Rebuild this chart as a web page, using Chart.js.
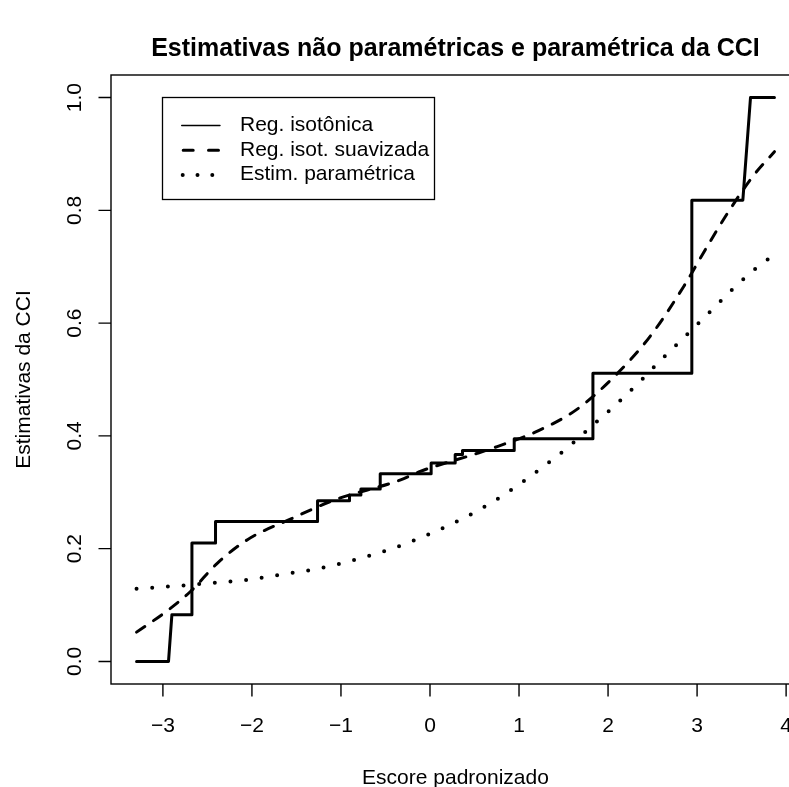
<!DOCTYPE html>
<html>
<head>
<meta charset="utf-8">
<script src="https://cdn.jsdelivr.net/npm/chart.js@4.4.1/dist/chart.umd.min.js"></script>
<style>
  html, body { margin: 0; padding: 0; background: #fff; overflow: hidden; width: 789px; height: 787px; }
  canvas { display: block; }
</style>
</head>
<body>
<canvas id="c" width="830" height="787"></canvas>
<script>
// Isotonic regression (step curve): vertices of the fitted step function
const isoX = [-3.296, -2.937, -2.899, -2.674, -2.674, -2.409, -2.409, -1.263, -1.263, -0.904, -0.904, -0.776, -0.776, -0.559, -0.559, 0.013, 0.013, 0.283, 0.283, 0.365, 0.365, 0.946, 0.946, 1.830, 1.830, 2.941, 2.941, 3.514, 3.600, 3.869];
const isoY = [0.000, 0.000, 0.083, 0.083, 0.210, 0.210, 0.248, 0.248, 0.285, 0.285, 0.295, 0.295, 0.306, 0.306, 0.333, 0.333, 0.352, 0.352, 0.367, 0.367, 0.374, 0.374, 0.395, 0.395, 0.511, 0.511, 0.818, 0.818, 1.000, 1.000];

// Smoothed isotonic regression
const smoothX = [-3.296, -2.95, -2.69, -2.39, -2.05, -1.545, -1.08, -0.33, -0.11, 0.53, 0.755, 1.20, 1.65, 2.10, 2.475, 2.85, 3.11, 3.375, 3.635, 3.869];
const smoothY = [0.052, 0.090, 0.124, 0.174, 0.216, 0.254, 0.286, 0.322, 0.337, 0.369, 0.381, 0.408, 0.447, 0.510, 0.577, 0.665, 0.735, 0.803, 0.862, 0.904];

// Parametric estimate
const paramX = [-3.296, -2.749, -2.393, -2.038, -1.679, -1.326, -0.971, -0.627, -0.286, 0.053, 0.376, 0.695, 0.994, 1.286, 1.567, 1.836, 2.106, 2.361, 2.622, 2.877, 3.132, 3.391, 3.652, 3.869];
const paramY = [0.129, 0.135, 0.140, 0.145, 0.154, 0.1625, 0.175, 0.190, 0.208, 0.230, 0.254, 0.282, 0.313, 0.347, 0.382, 0.420, 0.458, 0.497, 0.539, 0.578, 0.618, 0.659, 0.696, 0.722];

const xTicks = [-3, -2, -1, 0, 1, 2, 3, 4];
const xTickLabels = ['\u22123', '\u22122', '\u22121', '0', '1', '2', '3', '4'];
const yTicks = [0, 0.2, 0.4, 0.6, 0.8, 1.0];
const yTickLabels = ['0.0', '0.2', '0.4', '0.6', '0.8', '1.0'];

const seriesNames = ['Reg. isotônica', 'Reg. isot. suavizada', 'Estim. paramétrica'];
const titleText = 'Estimativas não paramétricas e paramétrica da CCI';
const xTitle = 'Escore padronizado';
const yTitle = 'Estimativas da CCI';

const FONT = '"Liberation Sans", Arial, Helvetica, sans-serif';

function pts(xs, ys) { return xs.map((v, i) => ({ x: v, y: ys[i] })); }

// Frame, axes, titles and legend in base-graphics style
const baseFrame = {
  id: 'baseFrame',
  afterDraw(chart) {
    const { ctx, chartArea: a, scales: { x, y } } = chart;
    ctx.save();
    ctx.strokeStyle = '#000';
    ctx.fillStyle = '#000';
    ctx.lineWidth = 1.4;
    ctx.setLineDash([]);
    ctx.lineCap = 'butt';
    ctx.strokeRect(a.left, a.top, a.right - a.left, a.bottom - a.top);

    // axis ticks
    ctx.beginPath();
    xTicks.forEach(v => {
      const px = x.getPixelForValue(v);
      ctx.moveTo(px, a.bottom);
      ctx.lineTo(px, a.bottom + 12.5);
    });
    yTicks.forEach(v => {
      const py = y.getPixelForValue(v);
      ctx.moveTo(a.left, py);
      ctx.lineTo(a.left - 12.5, py);
    });
    ctx.stroke();

    ctx.font = '21px ' + FONT;
    ctx.textAlign = 'center';
    ctx.textBaseline = 'alphabetic';
    xTicks.forEach((v, i) => ctx.fillText(xTickLabels[i], x.getPixelForValue(v), a.bottom + 47.5));
    yTicks.forEach((v, i) => {
      ctx.save();
      ctx.translate(a.left - 30, y.getPixelForValue(v));
      ctx.rotate(-Math.PI / 2);
      ctx.fillText(yTickLabels[i], 0, 0);
      ctx.restore();
    });

    const cx = (a.left + a.right) / 2;
    ctx.fillText(xTitle, cx, 783.5);
    ctx.save();
    ctx.translate(29.5, (a.top + a.bottom) / 2);
    ctx.rotate(-Math.PI / 2);
    ctx.fillText(yTitle, 0, 0);
    ctx.restore();

    ctx.font = 'bold 25px ' + FONT;
    ctx.fillText(titleText, cx, 56);

    // legend
    ctx.lineWidth = 1.3;
    ctx.strokeRect(162.5, 97.5, 272, 102);
    ctx.font = '21px ' + FONT;
    ctx.textAlign = 'left';
    const rows = [125.5, 150.2, 175];
    const bases = [131, 155.7, 180.4];
    ctx.lineCap = 'round';
    // solid sample
    ctx.lineWidth = 1.4;
    ctx.setLineDash([]);
    ctx.beginPath(); ctx.moveTo(181.7, rows[0]); ctx.lineTo(220, rows[0]); ctx.stroke();
    // dashed sample
    ctx.lineWidth = 3;
    ctx.setLineDash([10, 15.3]);
    ctx.beginPath(); ctx.moveTo(183.2, rows[1]); ctx.lineTo(218.5, rows[1]); ctx.stroke();
    // dotted sample
    ctx.lineWidth = 4;
    ctx.setLineDash([0, 14.8]);
    ctx.beginPath(); ctx.moveTo(182.7, rows[2]); ctx.lineTo(220, rows[2]); ctx.stroke();
    ctx.setLineDash([]);
    seriesNames.forEach((s, i) => ctx.fillText(s, 240, bases[i]));
    ctx.restore();
  }
};

new Chart(document.getElementById('c'), {
  type: 'scatter',
  data: {
    datasets: [
      {
        label: seriesNames[0],
        data: pts(isoX, isoY),
        showLine: true,
        borderColor: '#000',
        borderWidth: 3,
        borderJoinStyle: 'round',
        borderCapStyle: 'round',
        pointRadius: 0,
        tension: 0
      },
      {
        label: seriesNames[1],
        data: pts(smoothX, smoothY),
        showLine: true,
        borderColor: '#000',
        borderWidth: 3,
        borderDash: [10, 10.5],
        borderCapStyle: 'round',
        pointRadius: 0,
        cubicInterpolationMode: 'monotone'
      },
      {
        label: seriesNames[2],
        data: pts(paramX, paramY),
        showLine: true,
        borderColor: '#000',
        borderWidth: 4,
        borderDash: [0, 15.7],
        borderCapStyle: 'round',
        pointRadius: 0,
        cubicInterpolationMode: 'monotone'
      }
    ]
  },
  options: {
    responsive: false,
    devicePixelRatio: 1,
    animation: false,
    events: [],
    layout: { padding: { left: 111, right: 30, top: 75, bottom: 103 } },
    scales: {
      x: { type: 'linear', min: -3.583, max: 4.156, display: false },
      y: { type: 'linear', min: -0.04, max: 1.04, display: false }
    },
    plugins: {
      legend: { display: false },
      tooltip: { enabled: false },
      title: { display: false }
    }
  },
  plugins: [baseFrame]
});
</script>
</body>
</html>
